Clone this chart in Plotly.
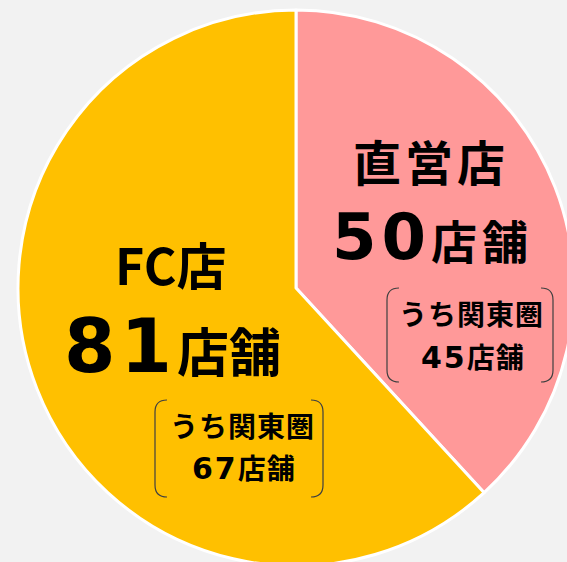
import plotly.graph_objects as go

# data
labels = ["直営店", "FC店"]
values = [50, 81]
kanto_values = [45, 67]
kanto_label = "うち関東圏"
unit = "店舗"
colors = ["#FF9999", "#FFC000"]

W, H = 574, 566
FONT = "Noto Sans CJK JP, Noto Sans CJK SC, sans-serif"
DIGIT_FONT = "DejaVu Sans"


def px(x):
    return x / W


def py(y):
    return 1 - y / H


fig = go.Figure()
fig.add_trace(go.Pie(
    labels=labels,
    values=values,
    sort=False,
    direction="clockwise",
    rotation=0,
    textinfo="none",
    hoverinfo="label+value",
    marker=dict(colors=colors, line=dict(color="white", width=3)),
    domain=dict(x=[px(18), 1], y=[0, py(10)]),
    showlegend=False,
))

# label layout per slice (screen pixel positions, glyph centres)
layout_spec = [
    dict(title=(431, 165, 48, 4),
         count=(432, 238, 64, 5, 46, 5),
         k1=(471, 316, 28, 1), k2=(473, 359, 28, 1),
         box=(387, 288, 553, 382)),
    dict(title=(170, 268, 50, 0),
         count=(172, 347, 74, 5, 52, 0),
         k1=(242, 428, 28, 1), k2=(244, 470, 28, 1),
         box=(155, 400, 323, 497)),
]


def ann(x, y, text, size, shift):
    return dict(x=px(x), y=py(y - shift), xref="paper", yref="paper",
                text=text, showarrow=False,
                font=dict(size=size, color="black", family=FONT),
                xanchor="center", yanchor="middle")


annotations = []
shapes = []
for i, spec in enumerate(layout_spec):
    tx, ty, ts, tls = spec["title"]
    annotations.append(ann(tx, ty, f"<b><span style='letter-spacing:{tls}px'>{labels[i]}</span></b>",
                           ts, 0.1 * ts))
    cx, cy, ns, nls, us, uls = spec["count"]
    annotations.append(ann(cx, cy,
                           f"<b><span style='font-family:{DIGIT_FONT};font-size:{ns}px;letter-spacing:{nls}px'>{values[i]}</span>"
                           f"<span style='letter-spacing:{uls}px'>{unit}</span></b>",
                           us, 0.02 * ns))
    k1x, k1y, ks, kls = spec["k1"]
    annotations.append(ann(k1x, k1y, f"<b><span style='letter-spacing:{kls}px'>{kanto_label}</span></b>",
                           ks, 0.1 * ks))
    k2x, k2y, ks2, kls2 = spec["k2"]
    annotations.append(ann(k2x, k2y,
                           f"<b><span style='font-family:{DIGIT_FONT};font-size:30px;letter-spacing:2px'>{kanto_values[i]}</span>"
                           f"<span style='letter-spacing:{kls2}px'>{unit}</span></b>",
                           ks2, 0.1 * ks2))
    x0, y0, x1, y1 = spec["box"]
    r = 12
    left = (f"M {px(x0 + r)},{py(y0)} Q {px(x0)},{py(y0)} {px(x0)},{py(y0 + r)} "
            f"L {px(x0)},{py(y1 - r)} Q {px(x0)},{py(y1)} {px(x0 + r)},{py(y1)}")
    right = (f"M {px(x1 - r)},{py(y0)} Q {px(x1)},{py(y0)} {px(x1)},{py(y0 + r)} "
             f"L {px(x1)},{py(y1 - r)} Q {px(x1)},{py(y1)} {px(x1 - r)},{py(y1)}")
    for p in (left, right):
        shapes.append(dict(type="path", path=p, xref="paper", yref="paper",
                           line=dict(color="#404040", width=1.2)))

fig.update_layout(
    width=W, height=H,
    margin=dict(l=0, r=0, t=0, b=0),
    paper_bgcolor="#F2F2F2",
    plot_bgcolor="#F2F2F2",
    annotations=annotations,
    shapes=shapes,
    font=dict(family=FONT),
)

fig.write_html(
    "out.html",
    config={"displayModeBar": False},
    post_script="document.body.style.margin='0';document.body.style.overflow='hidden';"
                "document.documentElement.style.background='#F2F2F2';",
)
